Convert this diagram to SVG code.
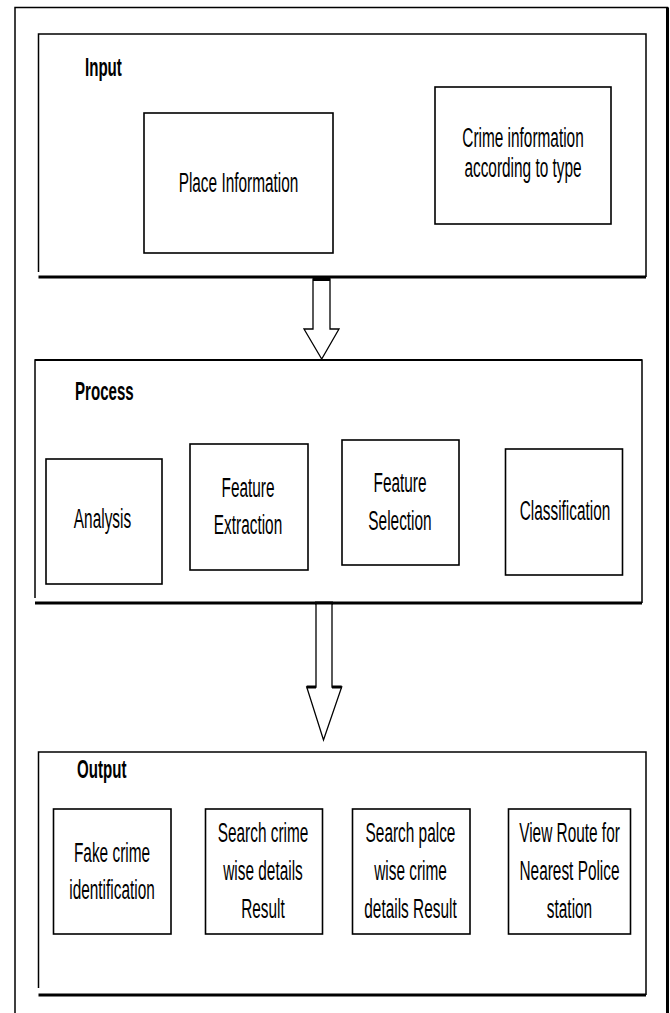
<svg xmlns="http://www.w3.org/2000/svg" width="670" height="1013" viewBox="0 0 670 1013">
<style>
.bg{fill:#fff}
.frame{fill:none;stroke:#000;stroke-width:1.5}
.cont{fill:none;stroke:#000;stroke-width:1.5}
.base{fill:none;stroke:#000;stroke-width:3}
.box{fill:#fff;stroke:#000;stroke-width:1.6}
.arrow{fill:#fff;stroke:#000;stroke-width:1.3;stroke-linejoin:miter}
.cap{stroke:#000;stroke-width:3}
.t{font-family:"Liberation Sans",Arial,sans-serif;font-size:28px;fill:#000;text-anchor:middle}
.lbl{font-family:"Liberation Sans",Arial,sans-serif;font-size:26px;font-weight:bold;fill:#000}
</style>
<rect class="bg" x="0" y="0" width="670" height="1013"/>
<g id="frame">
<path class="frame" d="M15,1013 V7.5 H667.5 V1013"/>
<line x1="667.5" y1="7.5" x2="667.5" y2="1013" stroke="#000" stroke-width="3"/>
</g>

<g id="input">
<path class="cont" d="M38.5,272 V34 H646 V277"/>
<line class="base" x1="38.5" y1="277" x2="646" y2="277"/>
<text class="lbl" transform="translate(85,76) scale(0.58,1)">Input</text>
</g>
<g id="place-information">
<rect class="box" x="144" y="113" width="189" height="140"/>
<text class="t" transform="translate(238.5,192) scale(0.55,1)">Place Information</text>
</g>
<g id="crime-information">
<rect class="box" x="435" y="87" width="176" height="137"/>
<text class="t" transform="translate(523,147) scale(0.55,1)">Crime information</text>
<text class="t" transform="translate(523,177) scale(0.55,1)">according to type</text>
</g>

<g id="process">
<path class="cont" d="M35,598 V360 H642 V603"/>
<line class="base" x1="35" y1="603" x2="642" y2="603"/>
<line x1="35" y1="360" x2="642" y2="360" stroke="#000" stroke-width="2"/>
<text class="lbl" transform="translate(75,400) scale(0.58,1)">Process</text>
</g>
<g id="analysis">
<rect class="box" x="46" y="459" width="116" height="125"/>
<text class="t" transform="translate(102.5,528) scale(0.55,1)">Analysis</text>
</g>
<g id="feature-extraction">
<rect class="box" x="190" y="444" width="118" height="126"/>
<text class="t" transform="translate(248,497) scale(0.55,1)">Feature</text>
<text class="t" transform="translate(248,534) scale(0.55,1)">Extraction</text>
</g>
<g id="feature-selection">
<rect class="box" x="342" y="440" width="117" height="125"/>
<text class="t" transform="translate(400,492) scale(0.55,1)">Feature</text>
<text class="t" transform="translate(400,530) scale(0.55,1)">Selection</text>
</g>
<g id="classification">
<rect class="box" x="505.5" y="449" width="117" height="126"/>
<text class="t" transform="translate(565,520) scale(0.55,1)">Classification</text>
</g>

<g id="output">
<path class="cont" d="M38.5,988 V752 H646 V995"/>
<line class="base" x1="38.5" y1="995" x2="646" y2="995"/>
<text class="lbl" transform="translate(77,778) scale(0.58,1)">Output</text>
</g>
<g id="fake-crime">
<rect class="box" x="53.5" y="809" width="117.5" height="125"/>
<text class="t" transform="translate(112,862) scale(0.55,1)">Fake crime</text>
<text class="t" transform="translate(112,899) scale(0.55,1)">identification</text>
</g>
<g id="search-crime">
<rect class="box" x="205.5" y="809" width="117" height="125"/>
<text class="t" transform="translate(263,842) scale(0.55,1)">Search crime</text>
<text class="t" transform="translate(263,880) scale(0.55,1)">wise details</text>
<text class="t" transform="translate(263,918) scale(0.55,1)">Result</text>
</g>
<g id="search-place">
<rect class="box" x="352.5" y="809" width="117.5" height="125"/>
<text class="t" transform="translate(410.5,842) scale(0.55,1)">Search palce</text>
<text class="t" transform="translate(410.5,880) scale(0.55,1)">wise crime</text>
<text class="t" transform="translate(410.5,918) scale(0.55,1)">details Result</text>
</g>
<g id="view-route">
<rect class="box" x="508.5" y="809" width="122" height="125"/>
<text class="t" transform="translate(569.5,842) scale(0.55,1)">View Route for</text>
<text class="t" transform="translate(569.5,880) scale(0.55,1)">Nearest Police</text>
<text class="t" transform="translate(569.5,918) scale(0.55,1)">station</text>
</g>

<g id="connectors">
<polygon class="arrow" points="313,279 330,279 330,329 339,329 321.7,359 304,329 313,329"/>
<line class="cap" x1="313" y1="279.5" x2="330" y2="279.5"/>
<polygon class="arrow" points="316,603 332,603 332,687 341.7,687 323.5,740 306.7,687 316,687"/>
<line class="cap" x1="315" y1="603" x2="333" y2="603"/>
<line class="cap" x1="306.7" y1="687" x2="316" y2="687"/>
<line class="cap" x1="332" y1="687" x2="341.7" y2="687"/>
</g>
</svg>
